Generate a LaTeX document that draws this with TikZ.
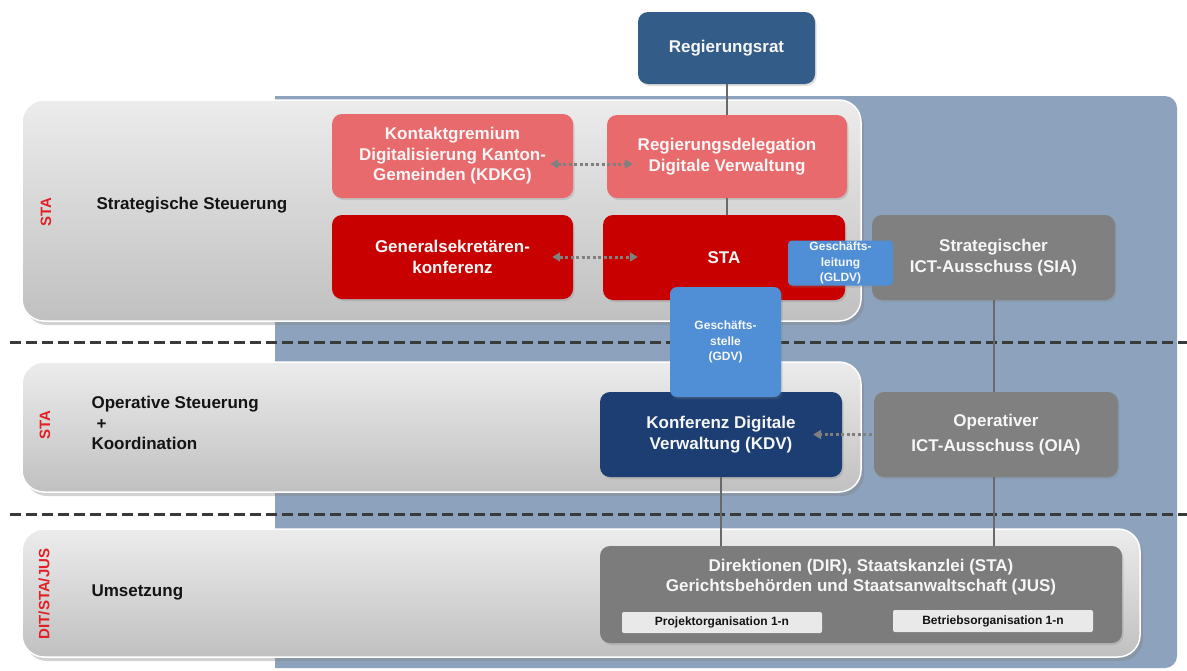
\documentclass[tikz,border=0pt]{standalone}
\usepackage{fontspec}
\setmainfont{Liberation Sans}
\usetikzlibrary{arrows.meta,shadows}
\definecolor{bgblue}{RGB}{141,163,189}
\definecolor{regblue}{RGB}{52,92,137}
\definecolor{salmon}{RGB}{232,106,108}
\definecolor{stared}{RGB}{200,0,0}
\definecolor{midblue}{RGB}{80,143,214}
\definecolor{boxgray}{RGB}{128,128,128}
\definecolor{dirgray}{RGB}{124,124,124}
\definecolor{navy}{RGB}{28,62,114}
\definecolor{pale}{RGB}{233,233,233}
\definecolor{labred}{RGB}{226,32,38}
\definecolor{bandtop}{RGB}{236,236,236}
\definecolor{bandbot}{RGB}{192,192,192}
\definecolor{dashcol}{RGB}{58,58,58}
\definecolor{conncol}{RGB}{105,105,105}
\definecolor{dotcol}{RGB}{128,128,128}
\definecolor{txtblack}{RGB}{20,20,20}
\definecolor{offwhite}{RGB}{246,246,246}
\begin{document}
\begin{tikzpicture}[x=1pt,y=-1pt,
  orgbox/.style={rounded corners=10pt, inner sep=0pt, align=center, text=offwhite,
    font=\bfseries\fontsize{17}{20.5}\selectfont,
    drop shadow={shadow xshift=1.5pt, shadow yshift=-2pt, opacity=0.25}},
  smallbox/.style={orgbox, rounded corners=7pt, font=\bfseries\fontsize{12}{15.5}\selectfont},
  palebox/.style={rounded corners=2pt, inner sep=0pt, fill=pale, text=txtblack,
    font=\bfseries\fontsize{12}{14}\selectfont},
  bandshape/.style={rounded corners=22pt, top color=bandtop, bottom color=bandbot,
    draw=white, line width=1.5pt,
    drop shadow={shadow xshift=3pt, shadow yshift=-4pt, opacity=0.35}},
  bandtext/.style={anchor=west, align=left, text=txtblack,
    font=\bfseries\fontsize{17}{20.5}\selectfont},
  sidelabel/.style={rotate=90, text=labred, font=\bfseries\fontsize{15}{17}\selectfont},
  dashline/.style={draw=dashcol, line width=3pt, dash pattern=on 11pt off 5pt},
  conn/.style={draw=conncol, line width=2pt},
  dotarrow/.style={draw=dotcol, line width=3pt, dash pattern=on 3pt off 2.5pt,
    {Triangle[length=8pt,width=9pt]}-{Triangle[length=8pt,width=9pt]}},
  dotarrowone/.style={draw=dotcol, line width=3pt, dash pattern=on 3pt off 2.5pt,
    -{Triangle[length=8pt,width=9pt]}}
]
\useasboundingbox (0,0) rectangle (1187,670);
\fill[white] (0,0) rectangle (1187,670);

% blue background
\fill[bgblue] (275,96) [rounded corners=12pt] -- (1177,96) -- (1177,668) [sharp corners] -- (275,668) -- cycle;

% dashed separators
\draw[dashline] (10,342) -- (1187,342);
\draw[dashline] (10,514) -- (1187,514);

% bands
\path[bandshape] (22,100) rectangle (861,321);
\path[bandshape] (22,362) rectangle (861,492);
\path[bandshape] (22,529) rectangle (1140,657);

% band texts
\node[bandtext] (t1) at (93,205) {Strategische Steuerung};
\node[bandtext] (t2) at (88,423) {Operative Steuerung\\\hspace{5pt}+\\Koordination};
\node[bandtext] (t3) at (88,592) {Umsetzung};
\node[sidelabel] (s1) at (46,212) {STA};
\node[sidelabel] (s2) at (45,425) {STA};
\node[sidelabel] (s3) at (44,594) {DIT/STA/JUS};

% boxes
\node[orgbox, fill=regblue, minimum width=177pt, minimum height=72pt] (rr) at (726.5,48) {Regierungsrat};
\node[orgbox, fill=salmon, minimum width=241pt, minimum height=84pt] (kdkg) at (452.5,156) {Kontaktgremium\\Digitalisierung Kanton-\\Gemeinden (KDKG)};
\node[orgbox, fill=salmon, minimum width=240pt, minimum height=83pt] (regdel) at (727,156.5) {Regierungsdelegation\\Digitale Verwaltung};
\node[orgbox, fill=stared, minimum width=241pt, minimum height=84pt] (gsk) at (452.5,257) {Generalsekretären-\\konferenz};
\node[orgbox, fill=stared, minimum width=242pt, minimum height=85pt] (sta) at (724,257.5) {\raisebox{-5pt}{STA}};
\node[orgbox, fill=boxgray, minimum width=243pt, minimum height=85pt] (sia) at (993.5,257.5) {Strategischer\\ICT-Ausschuss (SIA)};
\node[smallbox, fill=midblue, minimum width=105pt, minimum height=45pt, rounded corners=4pt] (gldv) at (840.5,263) {Geschäfts-\\leitung\\(GLDV)};
\node[orgbox, fill=navy, minimum width=242pt, minimum height=85pt] (kdv) at (721,434.5) {Konferenz Digitale\\Verwaltung (KDV)};
\node[smallbox, fill=midblue, minimum width=111pt, minimum height=110pt] (gdv) at (725.5,342) {Geschäfts-\\stelle\\(GDV)};
\node[orgbox, fill=boxgray, minimum width=244pt, minimum height=85pt, font=\bfseries\fontsize{17}{25}\selectfont] (oia) at (996,434.5) {Operativer\\ICT-Ausschuss (OIA)};
\node[orgbox, fill=dirgray, minimum width=522pt, minimum height=97pt] (dir) at (861,594.5) {};
\node[align=center, text=offwhite, font=\bfseries\fontsize{17}{20}\selectfont] (dirtxt) at (861,577) {Direktionen (DIR), Staatskanzlei (STA)\\Gerichtsbehörden und Staatsanwaltschaft (JUS)};
\node[palebox, minimum width=200pt, minimum height=21pt] (proj) at (722,622.5) {Projektorganisation 1-n};
\node[palebox, minimum width=200pt, minimum height=22pt] (betr) at (993,621) {Betriebsorganisation 1-n};

% connectors
\draw[conn] (rr.south) -- (rr.south |- regdel.north);
\draw[conn] (regdel.south) -- (regdel.south |- sta.north);
\draw[conn] (sia.south) -- (sia.south |- oia.north);
\draw[conn] (kdv.south) -- (kdv.south |- dir.north);
\draw[conn] (sia.south |- oia.south) -- (sia.south |- dir.north);

% dotted arrows
\draw[dotarrow] ([shift={(-23,8)}]kdkg.east) -- ([shift={(26,7.5)}]regdel.west);
\draw[dotarrow] ([shift={(-21,0)}]gsk.east) -- ([shift={(35,-0.5)}]sta.west);
\draw[dotarrowone] ([shift={(-2,0)}]oia.west) -- ([shift={(-29,0)}]kdv.east);
\end{tikzpicture}
\end{document}
